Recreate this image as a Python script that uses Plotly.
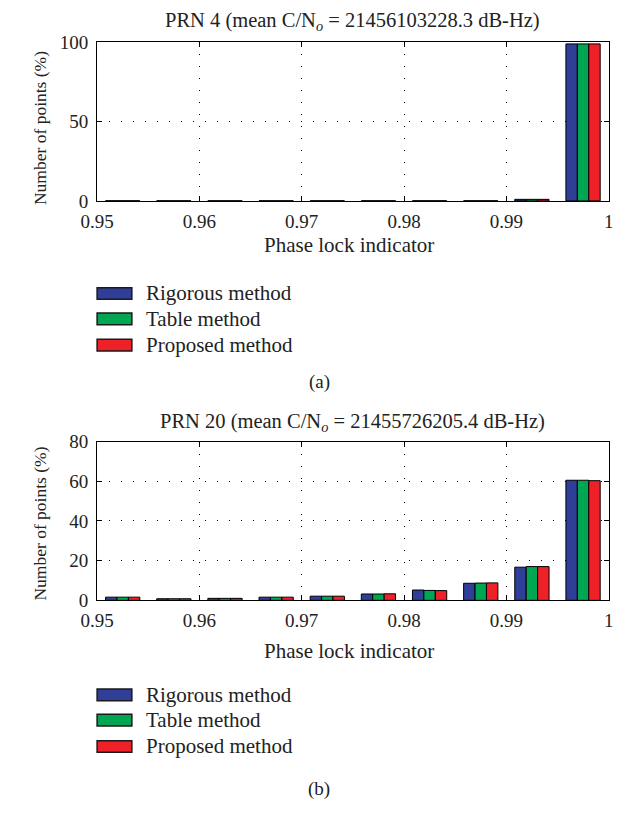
import plotly.graph_objects as go

bin_centers = [0.9525, 0.9575, 0.9625, 0.9675, 0.9725, 0.9775, 0.9825, 0.9875, 0.9925, 0.9975]
series_names = ["Rigorous method", "Table method", "Proposed method"]
colors = ["#2f3e96", "#00a651", "#ee2129"]

prn4_rigorous = [0.1, 0.1, 0.1, 0.1, 0.1, 0.1, 0.1, 0.1, 1.0, 98.9]
prn4_table    = [0.1, 0.1, 0.1, 0.1, 0.1, 0.1, 0.1, 0.1, 1.0, 98.9]
prn4_proposed = [0.1, 0.1, 0.1, 0.1, 0.1, 0.1, 0.1, 0.1, 1.0, 98.9]

prn20_rigorous = [1.6, 0.8, 1.0, 1.6, 2.1, 3.2, 5.2, 8.6, 16.7, 60.5]
prn20_table    = [1.6, 0.8, 1.0, 1.6, 2.1, 3.2, 5.0, 8.7, 17.0, 60.5]
prn20_proposed = [1.6, 0.8, 1.0, 1.6, 2.1, 3.3, 4.9, 8.8, 17.0, 60.3]

x_tickvals = [0.95, 0.96, 0.97, 0.98, 0.99, 1.0]
x_ticktext = ["0.95", "0.96", "0.97", "0.98", "0.99", "1"]

title_a = "PRN 4 (mean C/N<sub><i>o</i></sub> = 21456103228.3 dB-Hz)"
title_b = "PRN 20 (mean C/N<sub><i>o</i></sub> = 21455726205.4 dB-Hz)"

W, H = 631, 813
FONT = "Liberation Serif"
TXT = "#222222"

fig = go.Figure()

for vals, name, col in zip([prn4_rigorous, prn4_table, prn4_proposed], series_names, colors):
    fig.add_trace(go.Bar(x=bin_centers, y=vals, name=name, marker=dict(color=col, line=dict(color="black", width=1)),
                         xaxis="x", yaxis="y", showlegend=False, offsetgroup=name))
for vals, name, col in zip([prn20_rigorous, prn20_table, prn20_proposed], series_names, colors):
    fig.add_trace(go.Bar(x=bin_centers, y=vals, name=name, marker=dict(color=col, line=dict(color="black", width=1)),
                         xaxis="x2", yaxis="y2", showlegend=False, offsetgroup=name))

def px_x(p):
    return p / W

def px_y(p):
    return 1 - p / H

x_dom = [px_x(83), px_x(613)]
axis_common = dict(
    showline=True, linecolor="black", linewidth=1, mirror="ticks",
    ticks="inside", ticklen=5, tickcolor="black",
    showgrid=True, gridcolor="black", gridwidth=1, griddash="1px,11px",
    zeroline=False, tickfont=dict(family=FONT, size=19, color=TXT),
)

fig.update_layout(
    width=W, height=H, margin=dict(l=0, r=0, t=0, b=0),
    paper_bgcolor="white", plot_bgcolor="white",
    barmode="group", bargap=0.33, bargroupgap=0,
    font=dict(family=FONT, color=TXT),
    xaxis=dict(domain=x_dom, range=[0.95, 1.0], tickvals=x_tickvals, ticktext=x_ticktext, anchor="y",
               ticklabelstandoff=3, **axis_common),
    yaxis=dict(domain=[px_y(196), px_y(33)], range=[0, 100], tickvals=[0, 50, 100], anchor="x",
               ticklabelstandoff=4, **axis_common),
    xaxis2=dict(domain=x_dom, range=[0.95, 1.0], tickvals=x_tickvals, ticktext=x_ticktext, anchor="y2",
                ticklabelstandoff=3, **axis_common),
    yaxis2=dict(domain=[px_y(606), px_y(443)], range=[0, 80], tickvals=[0, 20, 40, 60, 80], anchor="x2",
                ticklabelstandoff=4, **axis_common),
)

anns = []
shapes = []

def txt(x, y, s, size=20, angle=0, xanchor="center"):
    anns.append(dict(x=px_x(x), y=px_y(y), xref="paper", yref="paper", text=s, showarrow=False,
                     font=dict(family=FONT, size=size, color=TXT), textangle=angle,
                     xanchor=xanchor, yanchor="middle"))

# titles
txt(348, 12, title_a, size=20.5)
txt(348, 423, title_b, size=20.5)
# axis titles
txt(344, 241, "Phase lock indicator", size=21)
txt(344, 658, "Phase lock indicator", size=21)
txt(24, 121, "Number of points (%)", size=17.5, angle=-90)
txt(24, 527, "Number of points (%)", size=17.5, angle=-90)
# panel labels
txt(313, 382, "(a)", size=19)
txt(313, 800, "(b)", size=19)

# legends
for rows in ([291, 317, 344], [703, 729, 756]):
    for yc, name, col in zip(rows, series_names, colors):
        shapes.append(dict(type="rect", xref="paper", yref="paper",
                           x0=px_x(83), x1=px_x(119), y0=px_y(yc + 6), y1=px_y(yc - 6),
                           fillcolor=col, line=dict(color="#1a1a1a", width=1.5)))
        txt(132, yc, name, size=21, xanchor="left")

fig.update_layout(annotations=anns, shapes=shapes)
fig.write_html("out.html",
               post_script="document.body.style.margin='0px';document.body.style.overflow='hidden';")
